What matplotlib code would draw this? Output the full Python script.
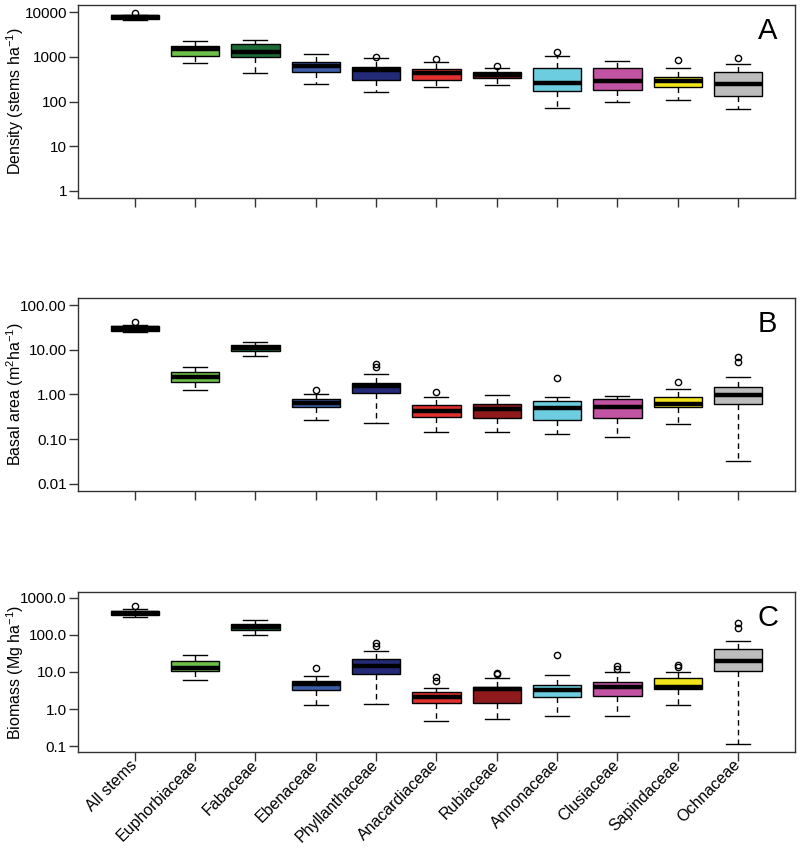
import matplotlib
matplotlib.use('Agg')
import matplotlib.pyplot as plt
from matplotlib.ticker import FixedLocator, FixedFormatter, NullLocator

plt.rcParams['font.family'] = 'Liberation Sans'
plt.rcParams['mathtext.fontset'] = 'custom'
plt.rcParams['mathtext.rm'] = 'Liberation Sans'
plt.rcParams['mathtext.it'] = 'Liberation Sans:italic'

families = ['All stems', 'Euphorbiaceae', 'Fabaceae', 'Ebenaceae', 'Phyllanthaceae',
            'Anacardiaceae', 'Rubiaceae', 'Annonaceae', 'Clusiaceae', 'Sapindaceae', 'Ochnaceae']
colors = ['#000000', '#6cc04a', '#1d6a36', '#3c5ea8', '#232a78', '#e0302e',
          '#8e1a1c', '#6dcde0', '#c153a2', '#f2e51c', '#bdbdbd']

# A: density (stems/ha)
dens_lo = [6620, 724, 441, 251, 161, 212, 239, 70, 96, 109, 69]
dens_q1 = [6950, 1069, 1016, 448, 308, 308, 336, 169, 178, 212, 136]
dens_med = [7870, 1483, 1312, 609, 496, 434, 392, 255, 288, 293, 251]
dens_q3 = [8560, 1755, 1945, 762, 590, 541, 448, 550, 570, 359, 457]
dens_hi = [8800, 2300, 2423, 1183, 964, 762, 550, 1069, 815, 561, 675]
dens_out = [[9800], [], [], [], [1016], [889], [621], [1291], [], [845], [950]]
dens_ticks = [1, 10, 100, 1000, 10000]
dens_labels = ['1', '10', '100', '1000', '10000']

# B: basal area (m2/ha)
ba_lo = [24.7, 1.27, 7.36, 0.268, 0.227, 0.143, 0.141, 0.131, 0.112, 0.215, 0.0325]
ba_q1 = [26.8, 1.91, 9.17, 0.533, 1.07, 0.313, 0.293, 0.274, 0.303, 0.514, 0.608]
ba_med = [30.3, 2.51, 10.9, 0.654, 1.53, 0.435, 0.464, 0.489, 0.533, 0.60, 0.964]
ba_q3 = [34.1, 3.25, 12.9, 0.80, 1.82, 0.578, 0.60, 0.724, 0.774, 0.858, 1.45]
ba_hi = [35.9, 4.13, 15.1, 1.05, 2.93, 0.871, 0.985, 0.889, 0.916, 1.31, 2.51]
ba_out = [[41.9], [], [], [1.29], [4.13, 4.81], [1.12], [], [2.35], [], [1.87], [5.41, 6.74]]
ba_ticks = [0.01, 0.1, 1, 10, 100]
ba_labels = ['0.01', '0.10', '1.00', '10.00', '100.00']

# C: biomass (Mg/ha)
bm_lo = [305, 6.07, 99, 1.27, 1.38, 0.468, 0.531, 0.668, 0.668, 1.30, 0.113]
bm_q1 = [337, 10.6, 135.6, 3.31, 9.0, 1.47, 1.47, 2.06, 2.23, 3.46, 10.8]
bm_med = [392, 13.1, 163, 4.82, 14.3, 2.14, 3.39, 3.25, 3.99, 3.99, 20.3]
bm_q3 = [444, 19.5, 197, 5.7, 22.5, 2.81, 3.99, 4.52, 5.46, 6.87, 42]
bm_hi = [491, 28.4, 247, 7.78, 37.8, 3.68, 6.74, 8.15, 10.2, 10.0, 69.4]
bm_out = [[610], [], [], [13.1], [49.8, 60], [5.7, 7.55], [9.0, 9.4], [28.4], [12.1, 14.6], [13.4, 15.5], [153, 210]]
bm_ticks = [0.1, 1, 10, 100, 1000]
bm_labels = ['0.1', '1.0', '10.0', '100.0', '1000.0']

panels = [
    ('A', 'Density (stems ha$^{-1}$)', dens_lo, dens_q1, dens_med, dens_q3, dens_hi, dens_out, dens_ticks, dens_labels),
    ('B', 'Basal area (m$^{2}$ha$^{-1}$)', ba_lo, ba_q1, ba_med, ba_q3, ba_hi, ba_out, ba_ticks, ba_labels),
    ('C', 'Biomass (Mg ha$^{-1}$)', bm_lo, bm_q1, bm_med, bm_q3, bm_hi, bm_out, bm_ticks, bm_labels),
]

# axes rectangles in figure fractions (left, bottom, width, height)
rects = [[0.0975, 0.7665, 0.896, 0.2276],
         [0.0975, 0.4210, 0.896, 0.2276],
         [0.0975, 0.1132, 0.896, 0.1887]]

fig = plt.figure(figsize=(8, 8.48), dpi=100)
edge = '#333333'

for i, (letter, ylab, lo, q1, med, q3, hi, out, ticks, labels) in enumerate(panels):
    ax = fig.add_axes(rects[i])
    stats = []
    for j in range(len(families)):
        stats.append(dict(whislo=lo[j], q1=q1[j], med=med[j], q3=q3[j], whishi=hi[j], fliers=out[j]))
    bp = ax.bxp(stats, positions=range(1, len(families) + 1), widths=0.8, capwidths=0.4,
                patch_artist=True,
                boxprops=dict(edgecolor='black', linewidth=1),
                whiskerprops=dict(color='black', linewidth=1, linestyle=(0, (4, 3))),
                capprops=dict(color='black', linewidth=1),
                medianprops=dict(color='black', linewidth=3.2, solid_capstyle='butt'),
                flierprops=dict(marker='o', markerfacecolor='none', markeredgecolor='black',
                                markersize=4.5, markeredgewidth=1))
    for patch, c in zip(bp['boxes'], colors):
        patch.set_facecolor(c)

    ax.set_yscale('log')
    ax.set_ylim(ticks[0] * 10 ** -0.16, ticks[-1] * 10 ** 0.16)
    ax.set_xlim(0.06, 11.94)
    ax.yaxis.set_major_locator(FixedLocator(ticks))
    ax.yaxis.set_major_formatter(FixedFormatter(labels))
    ax.yaxis.set_minor_locator(NullLocator())
    ax.set_xticks(range(1, len(families) + 1))
    if i == 2:
        ax.set_xticklabels(families, rotation=45, ha='right', va='center',
                           rotation_mode='anchor', fontsize=11.5)
    else:
        ax.set_xticklabels([])
    ax.tick_params(axis='both', direction='out', length=6.5, width=1, color=edge)
    ax.tick_params(axis='y', labelsize=11, pad=1.5)
    ax.tick_params(axis='x', pad=1)
    for s in ax.spines.values():
        s.set_color(edge)
        s.set_linewidth(1)
    ax.set_ylabel(ylab, fontsize=11.5)
    ax.yaxis.set_label_coords(-0.072, 0.5)
    ax.annotate(letter, xy=(1, 1), xycoords='axes fraction', xytext=(-27, -26),
                textcoords='offset pixels', ha='center', va='center', fontsize=21)

fig.savefig('out.png', dpi=100)
